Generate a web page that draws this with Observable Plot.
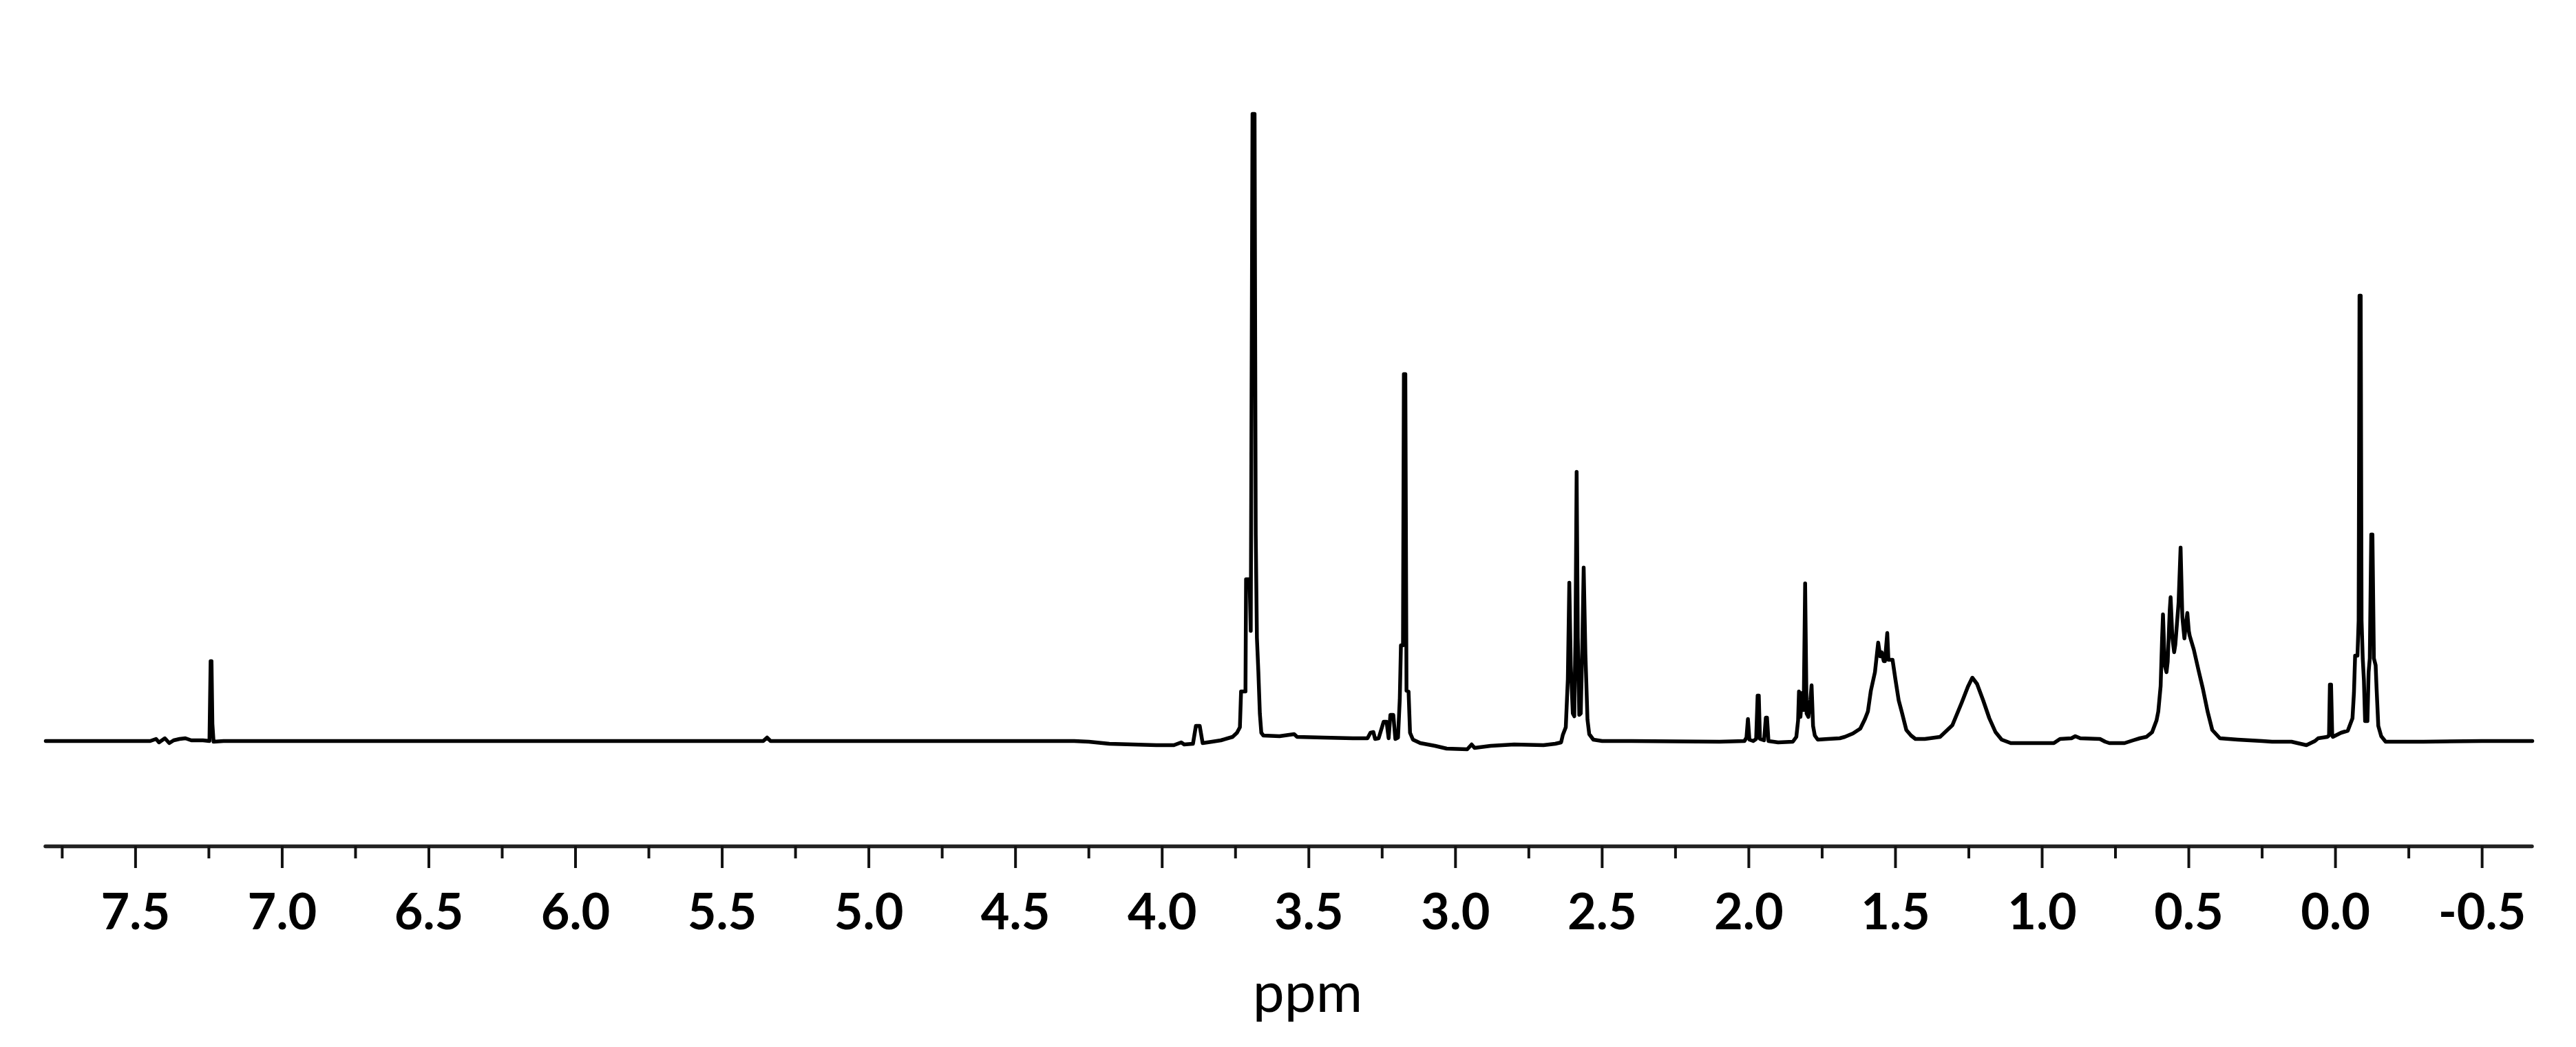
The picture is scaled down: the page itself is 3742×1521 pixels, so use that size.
<!DOCTYPE html>
<html>
<head>
<meta charset="utf-8">
<script src="https://cdn.jsdelivr.net/npm/d3@7"></script>
<script src="https://cdn.jsdelivr.net/npm/@observablehq/plot@0.6"></script>
<style>
  html, body { margin: 0; padding: 0; background: #fff; }
  #chart svg { display: block; }
  #chart g[aria-label="x-axis tick label"] text { font-weight: 700; }
</style>
</head>
<body>
<div id="chart"></div>
<script>
// 1H NMR spectrum, chemical shift (ppm) vs intensity (arbitrary units, baseline = 0)
const aromaticRegion = [
  [7.806, 0], [7.45, 0], [7.43, 3], [7.42, -2], [7.40, 4], [7.385, -3], [7.37, 1],
  [7.35, 3], [7.33, 4], [7.31, 1], [7.27, 1], [7.248, 0], [7.244, 116], [7.241, 116],
  [7.238, 25], [7.234, -1], [7.20, 0], [6.0, 0], [5.36, 0], [5.347, 5], [5.335, 0], [4.30, 0]
];
const methoxyRegion = [
  [4.25, -1], [4.18, -4], [4.10, -5], [4.02, -6], [3.96, -6], [3.935, -2], [3.925, -5],
  [3.895, -4], [3.885, 22], [3.872, 22], [3.862, -3], [3.83, -1], [3.80, 1], [3.76, 6],
  [3.745, 12], [3.735, 20], [3.731, 72], [3.716, 72], [3.714, 235], [3.702, 235],
  [3.698, 160], [3.692, 911], [3.685, 911], [3.681, 300], [3.677, 150], [3.672, 100],
  [3.667, 40], [3.662, 12], [3.655, 8], [3.60, 7], [3.55, 10], [3.54, 6], [3.45, 5],
  [3.35, 4], [3.30, 4], [3.29, 12], [3.280, 13], [3.274, 3], [3.262, 4], [3.245, 28],
  [3.235, 28], [3.228, 4], [3.222, 38], [3.212, 38], [3.205, 3], [3.196, 5], [3.190, 60],
  [3.186, 139], [3.179, 139], [3.176, 533], [3.171, 533], [3.167, 73], [3.160, 72],
  [3.155, 12], [3.145, 2], [3.12, -3], [3.07, -7], [3.03, -11], [2.96, -12], [2.945, -5],
  [2.935, -10], [2.88, -7], [2.80, -5], [2.70, -6], [2.66, -4], [2.640, -2]
];
const midRegion = [
  [2.634, 9], [2.624, 20], [2.617, 90], [2.612, 230], [2.607, 110], [2.600, 40],
  [2.595, 36], [2.591, 150], [2.587, 391], [2.583, 150], [2.578, 38], [2.573, 40],
  [2.568, 130], [2.563, 252], [2.557, 125], [2.550, 31], [2.544, 10], [2.530, 2],
  [2.50, 0], [2.40, 0], [2.10, -1], [2.015, 0], [2.008, 5], [2.003, 32], [1.998, 2],
  [1.985, 0], [1.975, 3], [1.970, 66], [1.966, 66], [1.962, 3], [1.948, 1], [1.942, 34],
  [1.938, 34], [1.933, 0], [1.90, -2], [1.85, -1], [1.838, 6], [1.832, 30], [1.829, 72],
  [1.824, 35], [1.818, 70], [1.813, 45], [1.808, 229], [1.803, 40], [1.797, 35],
  [1.790, 60], [1.786, 81], [1.781, 22], [1.775, 8], [1.765, 2], [1.73, 3], [1.69, 4]
];
const aliphaticRegion = [
  [1.673, 6], [1.645, 11], [1.620, 18], [1.604, 32], [1.594, 43], [1.584, 73],
  [1.570, 100], [1.559, 143], [1.552, 123], [1.547, 129], [1.540, 116], [1.536, 116],
  [1.528, 157], [1.524, 118], [1.510, 118], [1.500, 89], [1.489, 59], [1.479, 43],
  [1.463, 16], [1.447, 8], [1.432, 3], [1.40, 3], [1.348, 6], [1.306, 23], [1.274, 56],
  [1.253, 79], [1.238, 92], [1.222, 83], [1.201, 59], [1.180, 33], [1.159, 13],
  [1.138, 2], [1.107, -3], [0.96, -3], [0.939, 3], [0.90, 4], [0.887, 7], [0.87, 4],
  [0.803, 3], [0.785, -1], [0.771, -3], [0.719, -3], [0.690, 1], [0.667, 4], [0.645, 6],
  [0.625, 13], [0.610, 30], [0.604, 43], [0.596, 80], [0.591, 150], [0.588, 184],
  [0.582, 110], [0.576, 100], [0.572, 115], [0.565, 190], [0.562, 209], [0.556, 150],
  [0.550, 129], [0.546, 140], [0.535, 200], [0.528, 281], [0.522, 180], [0.515, 149],
  [0.510, 170], [0.505, 186], [0.500, 160], [0.497, 153], [0.483, 133], [0.467, 103],
  [0.452, 76], [0.436, 43], [0.420, 16], [0.394, 4], [0.333, 2]
];
const siliconRegion = [
  [0.25, 0], [0.216, -1], [0.15, -1], [0.099, -6], [0.07, 0], [0.059, 4], [0.028, 6],
  [0.022, 8], [0.019, 82], [0.015, 82], [0.011, 8], [0.009, 6], [-0.019, 12],
  [-0.042, 15], [-0.058, 33], [-0.063, 70], [-0.067, 124], [-0.075, 124], [-0.079, 175],
  [-0.082, 647], [-0.086, 647], [-0.089, 175], [-0.093, 120], [-0.097, 88], [-0.101, 29],
  [-0.109, 29], [-0.113, 100], [-0.117, 120], [-0.122, 300], [-0.126, 300], [-0.131, 120],
  [-0.137, 110], [-0.140, 78], [-0.146, 22], [-0.156, 7], [-0.171, -1], [-0.30, -1],
  [-0.50, 0], [-0.671, 0]
];

const majorTicks = [7.5, 7.0, 6.5, 6.0, 5.5, 5.0, 4.5, 4.0, 3.5, 3.0, 2.5, 2.0, 1.5, 1.0, 0.5, 0.0, -0.5];
const minorTicks = [7.75, 7.25, 6.75, 6.25, 5.75, 5.25, 4.75, 4.25, 3.75, 3.25, 2.75, 2.25, 1.75, 1.25, 0.75, 0.25, -0.25];
const xAxisTitle = "ppm";

const xDomain = [7.806, -0.671];
const yDomain = [-153, 914];

const spectrum = [...aromaticRegion, ...methoxyRegion, ...midRegion, ...aliphaticRegion, ...siliconRegion]
  .map(([ppm, intensity]) => ({ppm, intensity}));

const chart = Plot.plot({
  width: 3742,
  height: 1521,
  marginLeft: 66,
  marginRight: 64,
  marginTop: 162,
  marginBottom: 292,
  style: {fontFamily: "Lato, 'Open Sans', sans-serif", background: "#fff", color: "#111"},
  x: {domain: xDomain, label: null},
  y: {domain: yDomain, axis: null, label: null},
  marks: [
    Plot.line(spectrum, {x: "ppm", y: "intensity", stroke: "#000", strokeWidth: 5.5, curve: "linear"}),
    Plot.ruleY([yDomain[0]], {stroke: "#222", strokeWidth: 5.5, strokeLinecap: "round"}),
    Plot.axisX({
      ticks: minorTicks, tickSize: 18, tickFormat: () => "",
      stroke: "#111", strokeWidth: 4, label: null
    }),
    Plot.axisX({
      ticks: majorTicks, tickSize: 32, tickPadding: 37,
      tickFormat: d => d.toFixed(1),
      stroke: "#111", strokeWidth: 4,
      fontSize: 72, fontWeight: 700, fill: "#000", label: null
    }),
    Plot.text([xAxisTitle], {
      text: d => d, frameAnchor: "bottom", dx: 27, dy: 240,
      fontSize: 82, fontWeight: 400, fill: "#000"
    })
  ]
});
document.getElementById("chart").appendChild(chart);
</script>
</body>
</html>
